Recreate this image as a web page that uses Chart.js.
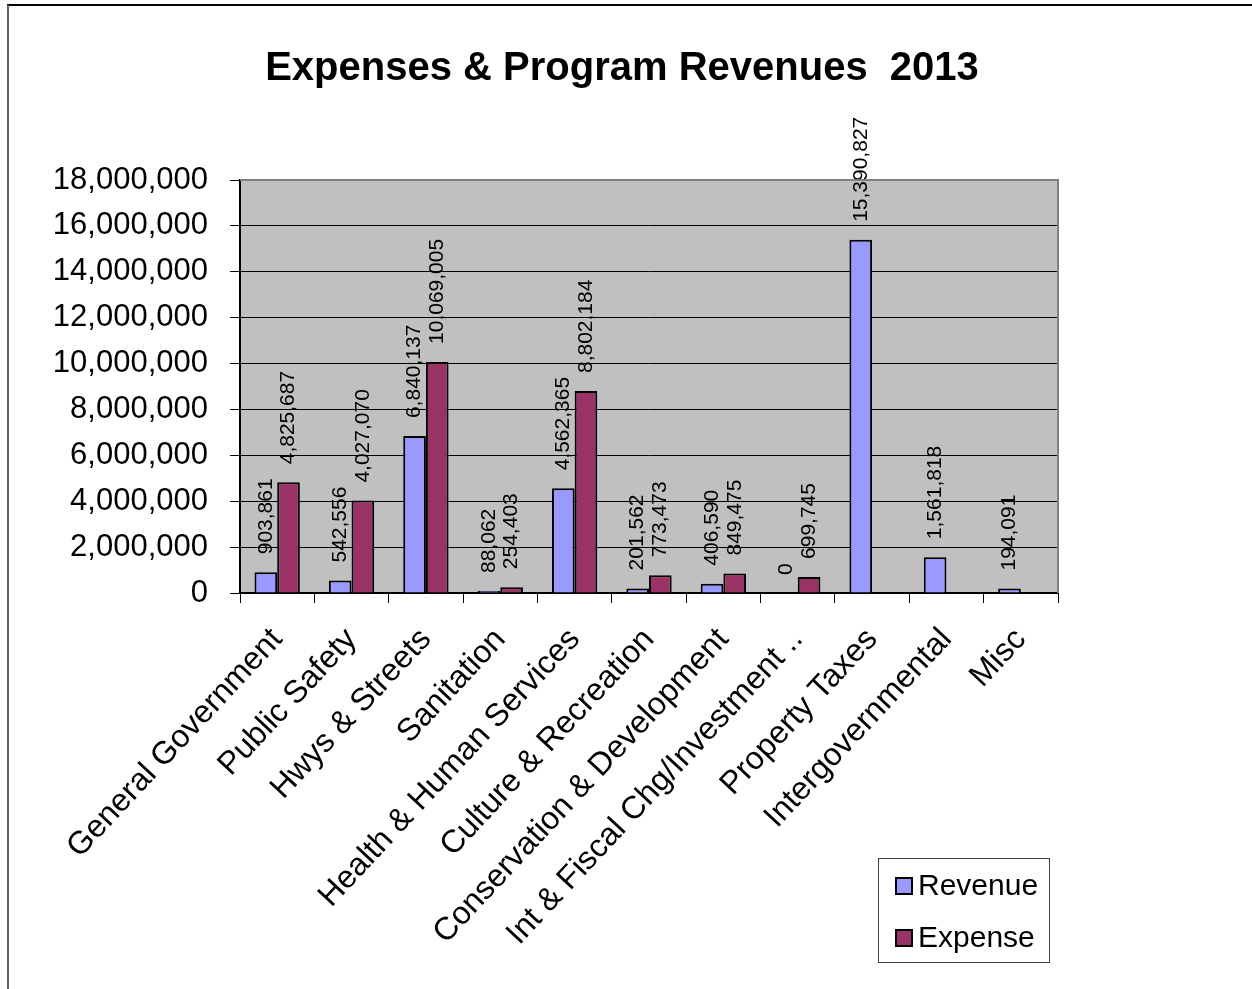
<!DOCTYPE html>
<html>
<head>
<meta charset="utf-8">
<script src="https://cdn.jsdelivr.net/npm/chart.js@4.4.1/dist/chart.umd.min.js"></script>
<style>
  html, body { margin: 0; padding: 0; background: #fff; overflow: hidden; }
  canvas { display: block; }
</style>
</head>
<body>
<canvas id="c" width="1252" height="989"></canvas>
<script>
const titleText = 'Expenses & Program Revenues  2013';
const categories = [
  'General Government', 'Public Safety', 'Hwys & Streets', 'Sanitation',
  'Health & Human Services', 'Culture & Recreation', 'Conservation & Development',
  'Int & Fiscal Chg/Investment ..', 'Property Taxes', 'Intergovernmental', 'Misc'
];
const revenue = [903861, 542556, 6840137, 88062, 4562365, 201562, 406590, 0, 15390827, 1561818, 194091];
const expense = [4825687, 4027070, 10069005, 254403, 8802184, 773473, 849475, 699745, null, null, null];
const yMin = 0;
const yMax = 18000000;
const yStep = 2000000;

const FONT = "'Liberation Sans', Arial, sans-serif";

const framePlugin = {
  id: 'frame',
  beforeDraw(chart) {
    const ctx = chart.ctx;
    ctx.save();
    ctx.fillStyle = '#ffffff';
    ctx.fillRect(0, 0, chart.width, chart.height);
    ctx.strokeStyle = '#000000';
    ctx.lineWidth = 2;
    ctx.beginPath();
    ctx.moveTo(7, 5); ctx.lineTo(chart.width, 5);
    ctx.stroke();
    ctx.strokeStyle = '#606060';
    ctx.beginPath();
    ctx.moveTo(8, 5); ctx.lineTo(8, chart.height);
    ctx.stroke();
    const a = chart.chartArea;
    ctx.fillStyle = '#C0C0C0';
    ctx.fillRect(a.left, a.top, a.right - a.left, a.bottom - a.top);
    ctx.restore();
  },
  afterDraw(chart) {
    const ctx = chart.ctx;
    const a = chart.chartArea;
    ctx.save();
    ctx.strokeStyle = '#808080';
    ctx.lineWidth = 2;
    ctx.beginPath();
    ctx.moveTo(a.left, a.top); ctx.lineTo(a.right, a.top); ctx.lineTo(a.right, a.bottom);
    ctx.stroke();
    ctx.fillStyle = '#000';
    ctx.font = 'bold 40px ' + FONT;
    ctx.textAlign = 'center';
    ctx.textBaseline = 'alphabetic';
    ctx.fillText(titleText, 622, 80);
    ctx.strokeStyle = '#404040';
    ctx.lineWidth = 1;
    ctx.strokeRect(878.5, 858.5, 171, 104);
    ctx.font = '30px ' + FONT;
    ctx.textAlign = 'left';
    ctx.textBaseline = 'middle';
    const rows = [886, 938];
    chart.data.datasets.forEach((ds, i) => {
      const y = rows[i];
      ctx.fillStyle = ds.backgroundColor;
      ctx.fillRect(896, y - 8, 16, 16);
      ctx.strokeStyle = '#000';
      ctx.lineWidth = 2;
      ctx.strokeRect(896, y - 8, 16, 16);
      ctx.fillStyle = '#000';
      ctx.fillText(ds.label, 918, y + 1);
    });
    ctx.restore();
  },
  afterDatasetsDraw(chart) {
    const ctx = chart.ctx;
    ctx.save();
    ctx.font = '21px ' + FONT;
    ctx.fillStyle = '#000';
    chart.data.datasets.forEach((ds, i) => {
      const meta = chart.getDatasetMeta(i);
      meta.data.forEach((bar, j) => {
        const v = ds.data[j];
        if (v === null || v === undefined) return;
        ctx.save();
        ctx.translate(bar.x, bar.y - 18);
        ctx.rotate(-Math.PI / 2);
        ctx.textAlign = 'left';
        ctx.textBaseline = 'middle';
        ctx.fillText(v.toLocaleString('en-US'), 0, 0);
        ctx.restore();
      });
    });
    ctx.restore();
  }
};

new Chart(document.getElementById('c'), {
  type: 'bar',
  data: {
    labels: categories,
    datasets: [
      { label: 'Revenue', data: revenue, backgroundColor: '#9999FF', borderColor: '#000', borderWidth: 2 },
      { label: 'Expense', data: expense, backgroundColor: '#993366', borderColor: '#000', borderWidth: 2 }
    ]
  },
  options: {
    responsive: false,
    animation: false,
    devicePixelRatio: 1,
    layout: { padding: { left: 0, top: 180, right: 194, bottom: 0 } },
    datasets: { bar: { categoryPercentage: 0.61, barPercentage: 1.0 } },
    plugins: {
      legend: { display: false },
      title: { display: false },
      tooltip: { enabled: false }
    },
    scales: {
      x: {
        grid: { offset: true, drawOnChartArea: false, color: '#000', tickLength: 10, lineWidth: 1 },
        border: { color: '#000', width: 2 },
        ticks: {
          color: '#000', font: { family: FONT, size: 32 },
          maxRotation: 47, minRotation: 47, autoSkip: false, padding: 18
        },
        afterFit(scale) { scale.height = 396; }
      },
      y: {
        min: yMin, max: yMax,
        grid: { color: '#000', tickLength: 10, lineWidth: 1 },
        border: { color: '#000', width: 2 },
        ticks: {
          stepSize: yStep, color: '#000', font: { family: FONT, size: 31 }, padding: 22,
          callback: (v) => Number(v).toLocaleString('en-US')
        },
        afterFit(scale) { scale.width = 240; }
      }
    }
  },
  plugins: [framePlugin]
});
</script>
</body>
</html>
